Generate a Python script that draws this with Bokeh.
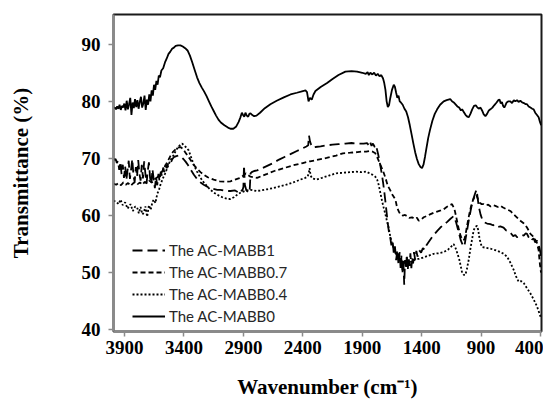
from bokeh.plotting import figure
from bokeh.models import Range1d, FixedTicker, Legend, LegendItem
from bokeh.embed import file_html
from bokeh.resources import INLINE

# ---------------- data ----------------
x_ticks = [3900, 3400, 2900, 2400, 1900, 1400, 900, 400]
y_ticks = [40, 50, 60, 70, 80, 90]

series_names = ["The AC-MABB1", "The AC-MABB0.7", "The AC-MABB0.4", "The AC-MABB0"]

# The AC-MABB0 (solid)
wn_ac0 = [3993, 3982, 3972, 3962, 3952, 3942, 3932, 3922, 3912, 3902,
          3892, 3882, 3872, 3862, 3852, 3842, 3832, 3822, 3812, 3802,
          3792, 3782, 3772, 3762, 3752, 3742, 3732, 3722, 3712, 3702,
          3692, 3682, 3672, 3662, 3652, 3642, 3632, 3622, 3612, 3602,
          3590, 3575, 3560, 3545, 3530, 3515, 3500, 3485, 3470, 3450,
          3430, 3410, 3390, 3370, 3350, 3330, 3310, 3290, 3270, 3250,
          3230, 3210, 3190, 3170, 3150, 3130, 3110, 3090, 3060, 3030,
          3009, 2985, 2960, 2940, 2925, 2913, 2903, 2893, 2883, 2872,
          2860, 2850, 2840, 2825, 2810, 2790, 2760, 2720, 2673, 2620,
          2560, 2504, 2450, 2400, 2378, 2365, 2352, 2340, 2325, 2310,
          2294, 2250, 2196, 2150, 2100, 2042, 1990, 1943, 1900, 1870,
          1855, 1845, 1832, 1815, 1800, 1785, 1770, 1755, 1740, 1725,
          1715, 1705, 1695, 1685, 1675, 1665, 1650, 1635, 1625, 1615,
          1605, 1595, 1585, 1575, 1560, 1545, 1530, 1515, 1500, 1485,
          1470, 1455, 1440, 1425, 1410, 1397, 1385, 1372, 1360, 1345,
          1330, 1310, 1290, 1270, 1245, 1215, 1190, 1160, 1145, 1130,
          1117, 1100, 1085, 1070, 1060, 1045, 1030, 1015, 1005, 990,
          975, 960, 945, 934, 920, 905, 892, 878, 864, 850,
          835, 822, 805, 790, 770, 755, 745, 735, 725, 715,
          705, 696, 685, 670, 654, 640, 625, 612, 598, 585,
          570, 555, 540, 525, 514, 500, 485, 470, 458, 445,
          430, 416, 405, 395]
t_ac0 = [78.8, 78.9, 78.6, 79.1, 78.7, 79.4, 78.5, 79.2, 78.9, 79.6,
         78.4, 80.1, 78.6, 79.5, 80.6, 77.6, 79.8, 78.8, 80.4, 79.0,
         80.2, 78.7, 79.9, 80.8, 78.9, 79.6, 81.0, 78.5, 80.3, 79.4,
         81.2, 80.0, 81.9, 81.0, 82.9, 82.0, 83.6, 82.9, 84.5, 84.2,
         85.4, 85.8, 86.8, 87.5, 88.3, 88.7, 89.2, 89.4, 89.7, 89.8,
         89.8, 89.6, 89.3, 88.9, 88.0, 86.8, 85.5, 84.2, 83.2, 82.4,
         81.7, 80.9, 80.0, 79.1, 78.3, 77.5, 76.8, 76.3, 75.8, 75.4,
         75.2, 75.2, 75.6, 76.4, 77.2, 78.0, 77.6, 77.3, 78.0, 77.5,
         77.3, 77.8, 77.9, 77.6, 77.4, 77.5, 78.0, 78.8, 79.5, 80.1,
         80.7, 81.2, 81.5, 81.8, 81.9, 81.6, 80.0, 80.6, 80.3, 81.2,
         81.8, 82.5, 83.2, 83.9, 84.6, 85.2, 85.3, 85.2, 85.0, 84.8,
         85.1, 84.6, 85.0, 84.7, 85.0, 84.5, 84.8, 84.4, 84.6, 84.0,
         83.2, 82.0, 80.0, 79.0, 79.3, 80.5, 82.0, 82.9, 82.5, 81.5,
         80.6, 81.0, 80.0, 79.8, 79.4, 78.7, 78.2, 77.2, 75.8, 74.2,
         72.6, 71.1, 69.9, 69.0, 68.5, 68.3, 68.9, 70.3, 71.8, 73.6,
         75.0, 76.6, 77.8, 78.6, 79.4, 80.0, 80.2, 80.4, 80.0, 79.8,
         79.5, 79.1, 78.9, 78.4, 78.6, 78.1, 77.6, 77.3, 77.2, 77.8,
         78.6, 79.2, 79.3, 79.0, 78.7, 78.9, 78.4, 77.7, 77.4, 77.8,
         78.4, 78.6, 78.9, 79.3, 79.8, 80.2, 80.3, 79.6, 79.9, 79.2,
         78.9, 79.3, 79.8, 80.0, 80.0, 79.7, 80.2, 80.0, 80.2, 79.9,
         80.1, 79.8, 79.7, 79.5, 79.5, 79.1, 78.9, 78.7, 78.6, 78.0,
         77.6, 77.2, 76.4, 75.8]

# The AC-MABB1 (long dash)
wn_ac1 = [3993, 3985, 3975, 3965, 3955, 3945, 3935, 3925, 3915, 3905,
          3895, 3885, 3875, 3865, 3855, 3845, 3835, 3825, 3815, 3805,
          3795, 3785, 3775, 3765, 3755, 3745, 3735, 3725, 3715, 3705,
          3695, 3685, 3675, 3665, 3655, 3645, 3635, 3625, 3615, 3605,
          3595, 3585, 3575, 3565, 3555, 3545, 3530, 3515, 3500, 3486,
          3465, 3445, 3425, 3405, 3385, 3365, 3345, 3318, 3290, 3260,
          3234, 3200, 3160, 3120, 3093, 3050, 3009, 2970, 2945, 2925,
          2910, 2900, 2895, 2888, 2875, 2860, 2848, 2840, 2830, 2810,
          2785, 2740, 2700, 2650, 2600, 2550, 2500, 2450, 2400, 2370,
          2355, 2348, 2340, 2330, 2315, 2294, 2250, 2200, 2150, 2100,
          2042, 1990, 1940, 1888, 1860, 1845, 1835, 1822, 1810, 1795,
          1785, 1775, 1765, 1755, 1745, 1735, 1725, 1715, 1705, 1695,
          1685, 1675, 1665, 1655, 1645, 1635, 1625, 1615, 1605, 1595,
          1585, 1577, 1570, 1562, 1555, 1547, 1540, 1532, 1525, 1517,
          1510, 1502, 1495, 1487, 1480, 1472, 1465, 1455, 1445, 1435,
          1420, 1405, 1390, 1375, 1360, 1340, 1313, 1290, 1265, 1243,
          1215, 1185, 1160, 1131, 1110, 1090, 1070, 1055, 1041, 1030,
          1015, 1000, 985, 970, 955, 945, 938, 930, 920, 905,
          890, 870, 850, 822, 800, 780, 760, 738, 711, 690,
          670, 650, 630, 612, 598, 580, 560, 540, 525, 514,
          500, 485, 470, 458, 445, 430, 418, 408, 400, 395]
t_ac1 = [70.0, 69.7, 69.9, 69.2, 69.6, 68.0, 69.4, 67.2, 68.9, 66.6,
         68.6, 66.2, 67.9, 69.6, 66.4, 68.1, 69.9, 67.0, 65.9, 68.5,
         66.8, 69.7, 67.3, 66.1, 68.9, 66.5, 69.5, 67.4, 65.6, 67.8,
         69.3, 66.6, 65.5, 68.1, 66.4, 64.8, 66.7, 65.3, 67.3, 66.0,
         67.7, 66.9, 68.4, 67.6, 68.9, 68.3, 69.3, 69.1, 69.8, 70.2,
         70.4, 70.5, 70.3, 69.9, 69.4, 68.8, 68.1, 67.2, 66.4, 65.8,
         65.4, 65.0, 64.7, 64.5, 64.5, 64.3, 64.3, 64.4, 64.1, 64.6,
         64.3, 65.0, 68.8, 65.4, 64.4, 64.1, 64.0, 67.4, 67.6, 67.8,
         67.9, 68.3, 68.7, 69.2, 69.8, 70.3, 70.8, 71.3, 71.8, 72.1,
         72.3, 74.0, 73.0, 72.4, 71.9, 72.0, 72.1, 72.3, 72.4, 72.5,
         72.6, 72.7, 72.6, 72.6, 72.7, 72.3, 72.9, 72.2, 72.6, 72.0,
         72.3, 71.5, 70.6, 69.6, 68.4, 67.2, 65.8, 64.2, 62.4, 60.5,
         58.6, 57.0, 56.2, 54.8, 55.6, 53.4, 54.6, 52.2, 54.0, 51.4,
         53.6, 50.6, 53.0, 49.8, 52.4, 47.9, 52.2, 50.6, 53.2, 50.4,
         52.8, 51.2, 53.4, 50.8, 52.6, 51.6, 53.6, 52.3, 53.8, 52.8,
         53.9, 53.5, 54.3, 54.0, 54.8, 55.4, 56.2, 56.8, 57.4, 57.9,
         58.4, 58.9, 59.4, 59.9, 58.8, 57.2, 55.6, 54.9, 54.6, 56.0,
         57.8, 59.6, 61.2, 62.6, 63.6, 64.2, 64.5, 63.2, 61.6, 60.2,
         59.3, 58.8, 58.6, 58.5, 58.3, 58.4, 58.0, 58.1, 57.9, 57.4,
         57.3, 56.9, 56.4, 56.6, 56.2, 56.4, 56.6, 56.5, 56.9, 56.8,
         56.2, 56.4, 55.8, 56.0, 55.3, 55.6, 55.0, 54.2, 53.4, 52.8]

# The AC-MABB0.7 (short dash)
wn_ac07 = [3993, 3970, 3950, 3930, 3910, 3890, 3870, 3850, 3830, 3810,
           3790, 3770, 3750, 3730, 3710, 3690, 3670, 3650, 3630, 3610,
           3590, 3570, 3550, 3530, 3510, 3490, 3470, 3450, 3430, 3410,
           3390, 3370, 3350, 3320, 3290, 3261, 3230, 3200, 3150, 3100,
           3050, 3009, 2970, 2940, 2925, 2900, 2880, 2860, 2840, 2810,
           2785, 2700, 2640, 2560, 2480, 2400, 2340, 2287, 2200, 2120,
           2063, 2000, 1940, 1900, 1867, 1840, 1815, 1790, 1770, 1748,
           1725, 1705, 1685, 1664, 1645, 1621, 1607, 1590, 1579, 1560,
           1540, 1523, 1505, 1481, 1460, 1440, 1425, 1405, 1383, 1360,
           1330, 1299, 1270, 1240, 1215, 1190, 1165, 1145, 1125, 1108,
           1090, 1072, 1055, 1041, 1030, 1015, 1000, 985, 970, 955,
           940, 925, 910, 895, 879, 860, 840, 820, 800, 780,
           760, 738, 715, 695, 675, 654, 635, 615, 595, 570,
           545, 530, 514, 500, 485, 470, 458, 445, 430, 416,
           408, 400, 395]
t_ac07 = [65.6, 65.4, 65.7, 65.3, 65.8, 65.4, 65.7, 65.2, 65.6, 65.9,
          65.5, 65.8, 65.4, 65.9, 65.6, 66.1, 65.8, 66.3, 66.6, 67.0,
          67.5, 68.2, 69.0, 69.8, 70.6, 71.2, 71.6, 71.9, 72.0, 71.7,
          71.1, 70.5, 69.9, 68.9, 68.2, 67.6, 67.1, 66.7, 66.3, 66.0,
          65.9, 66.0, 66.3, 66.5, 66.6, 67.0, 67.4, 67.1, 66.8, 66.7,
          66.6, 67.3, 67.8, 68.3, 68.8, 69.2, 69.5, 69.7, 70.1, 70.5,
          70.9, 71.0, 71.1, 71.2, 71.2, 71.3, 71.2, 70.9, 70.0, 68.9,
          67.8, 66.6, 65.2, 64.4, 63.6, 62.8, 61.4, 60.6, 60.2, 60.0,
          60.1, 59.9, 59.6, 59.7, 59.4, 59.6, 59.1, 59.3, 59.7, 59.9,
          60.2, 60.5, 60.7, 60.9, 61.1, 61.5, 61.8, 62.0, 61.2, 59.6,
          57.8, 56.4, 55.7, 55.8, 56.8, 58.6, 60.2, 61.6, 62.6, 63.3,
          63.6, 62.8, 62.2, 62.0, 62.0, 61.8, 61.9, 61.6, 61.8, 61.7,
          61.5, 61.7, 61.4, 61.2, 61.0, 60.8, 60.4, 60.0, 59.6, 59.1,
          58.7, 58.4, 57.9, 57.4, 56.8, 56.5, 56.2, 55.8, 55.2, 53.9,
          52.0, 50.5, 50.0]

# The AC-MABB0.4 (dotted)
wn_ac04 = [3993, 3970, 3950, 3934, 3915, 3895, 3875, 3850, 3830, 3810,
           3794, 3780, 3765, 3750, 3738, 3725, 3710, 3695, 3680, 3665,
           3654, 3640, 3625, 3610, 3598, 3580, 3560, 3541, 3520, 3500,
           3486, 3465, 3445, 3430, 3415, 3400, 3380, 3360, 3340, 3318,
           3290, 3261, 3230, 3200, 3177, 3140, 3100, 3065, 3030, 3009,
           2980, 2955, 2925, 2900, 2870, 2841, 2815, 2792, 2750, 2700,
           2650, 2596, 2540, 2480, 2420, 2380, 2360, 2350, 2343, 2335,
           2320, 2287, 2240, 2180, 2119, 2060, 2000, 1951, 1910, 1867,
           1840, 1810, 1790, 1775, 1762, 1748, 1733, 1719, 1705, 1692,
           1678, 1665, 1650, 1635, 1620, 1605, 1590, 1575, 1560, 1545,
           1530, 1515, 1500, 1485, 1470, 1455, 1440, 1425, 1411, 1380,
           1340, 1299, 1260, 1215, 1180, 1150, 1131, 1115, 1100, 1085,
           1072, 1060, 1045, 1033, 1020, 1005, 990, 975, 963, 950,
           935, 925, 915, 905, 893, 870, 845, 822, 790, 760,
           738, 710, 682, 655, 626, 605, 584, 562, 542, 515,
           486, 460, 430, 415, 402, 395]
t_ac04 = [62.6, 62.4, 62.0, 62.8, 61.8, 62.3, 61.2, 62.0, 60.8, 61.6,
          61.4, 60.4, 61.5, 60.2, 60.5, 61.6, 59.8, 61.8, 61.0, 62.4,
          62.8, 62.2, 63.8, 64.5, 65.4, 66.4, 67.3, 68.3, 69.4, 70.2,
          70.6, 71.5, 72.1, 72.4, 72.6, 72.3, 71.9, 71.4, 70.2, 68.9,
          67.7, 66.6, 65.7, 65.0, 64.5, 63.9, 63.4, 63.1, 62.9, 62.9,
          63.2, 63.6, 64.0, 64.2, 64.4, 64.5, 64.4, 64.3, 64.4, 64.6,
          64.8, 65.1, 65.4, 65.8, 66.3, 66.6, 66.8, 67.4, 68.3, 67.0,
          66.5, 66.3, 66.6, 67.0, 67.4, 67.5, 67.6, 67.7, 67.6, 67.7,
          67.4, 67.1, 66.8, 66.3, 65.4, 64.0, 62.5, 61.3, 60.2, 59.0,
          57.9, 56.4, 55.2, 54.2, 53.4, 53.0, 52.6, 52.3, 52.0, 51.8,
          51.9, 51.6, 51.8, 52.0, 52.1, 52.3, 52.4, 52.4, 52.5, 52.7,
          53.0, 53.3, 53.4, 53.6, 54.0, 54.6, 55.0, 54.3, 53.4, 52.4,
          51.2, 50.0, 49.6, 49.6, 50.6, 52.2, 54.2, 56.0, 57.4, 58.0,
          58.2, 57.5, 56.2, 55.2, 54.5, 54.4, 54.3, 54.2, 54.0, 53.8,
          53.6, 53.3, 52.8, 51.8, 50.5, 49.3, 48.4, 48.5, 48.2, 47.3,
          46.4, 45.4, 44.1, 43.2, 42.4, 42.0]

# ---------------- figure ----------------
SERIF = "Liberation Serif"

p = figure(width=543, height=401, output_backend="svg", toolbar_location=None,
           x_range=Range1d(3993, 392), y_range=Range1d(39.7, 95.2),
           min_border_left=113, min_border_right=2, min_border_top=14,
           min_border_bottom=64)
p.grid.visible = False
p.background_fill_color = "white"
p.border_fill_color = "white"
p.outline_line_color = "#1a1a1a"
p.outline_line_width = 2

p.xaxis.ticker = FixedTicker(ticks=x_ticks)
p.yaxis.ticker = FixedTicker(ticks=y_ticks)
for ax in (p.xaxis[0], p.yaxis[0]):
    ax.axis_line_color = "#8a8a8a"
    ax.axis_line_width = 2
    ax.major_tick_line_color = "#8a8a8a"
    ax.major_tick_line_width = 1.5
    ax.major_tick_in = 0
    ax.major_tick_out = 5
    ax.minor_tick_line_color = None
    ax.major_label_text_font = SERIF
    ax.major_label_text_font_style = "bold"
    ax.major_label_text_font_size = "19px"
    ax.major_label_text_color = "black"
    ax.axis_label_text_font = SERIF
    ax.axis_label_text_font_style = "bold"
    ax.axis_label_text_font_size = "21px"
    ax.axis_label_text_color = "black"

p.xaxis.major_label_standoff = 4
p.xaxis.axis_label = "Wavenumber (cm\u207b\u00b9)"
p.xaxis.axis_label_standoff = 18
p.yaxis.major_label_standoff = 8
p.yaxis.axis_label = "Transmittance (%)"
p.yaxis.axis_label_standoff = 46

lw = 1.8
r1 = p.line(wn_ac1, t_ac1, line_color="black", line_width=lw, line_dash="10 5")
r07 = p.line(wn_ac07, t_ac07, line_color="black", line_width=lw, line_dash="5 3")
r04 = p.line(wn_ac04, t_ac04, line_color="black", line_width=lw, line_dash="2 2")
r0 = p.line(wn_ac0, t_ac0, line_color="black", line_width=lw)

legend = Legend(items=[LegendItem(label=series_names[0], renderers=[r1]),
                       LegendItem(label=series_names[1], renderers=[r07]),
                       LegendItem(label=series_names[2], renderers=[r04]),
                       LegendItem(label=series_names[3], renderers=[r0])],
                location=(19, 4))
legend.border_line_color = None
legend.background_fill_alpha = 0
legend.padding = 0
legend.margin = 0
legend.spacing = 0
legend.glyph_width = 33
legend.glyph_height = 22
legend.label_height = 22
legend.label_standoff = 4
legend.label_text_font = "Lato"
legend.label_text_font_size = "15px"
legend.label_text_color = "#262626"
p.add_layout(legend, "center")

open("out.html", "w").write(file_html(p, INLINE))
